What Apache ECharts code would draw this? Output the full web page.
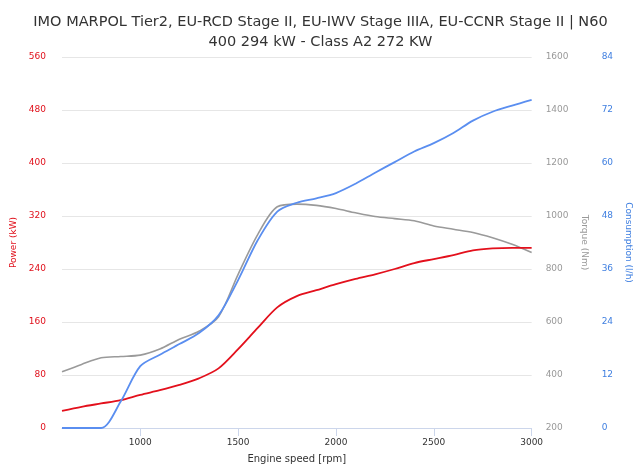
<!DOCTYPE html>
<html><head><meta charset="utf-8">
<script src="https://cdn.jsdelivr.net/npm/echarts@6/dist/echarts.min.js"></script>
<style>html,body{margin:0;padding:0;background:#fff}#c{width:641px;height:473px}</style>
</head><body><div id="c"></div>
<script>
const titleText = 'IMO MARPOL Tier2, EU-RCD Stage II, EU-IWV Stage IIIA, EU-CCNR Stage II | N60\n400 294 kW - Class A2 272 KW';
const rpm = [600,700,800,900,1000,1100,1200,1300,1400,1500,1600,1700,1800,1900,2000,2100,2200,2300,2400,2500,2600,2700,2800,2900,3000];
const power = [26,32,37,42,50,57,65,75,90,119,151,182,199,208,217,225,232,240,249,255,261,268,271,272,272];
const torque = [412,440,465,470,475,498,535,565,620,780,930,1035,1045,1040,1028,1012,998,990,982,962,950,938,918,893,862];
const consumption = [0,0,0,6,14,16.6,19,21.5,25.5,33.5,42.5,49,51,52,53.2,55.3,57.8,60.2,62.6,64.5,66.8,69.6,71.6,73,74.3];
const xTicks = [1000,1500,2000,2500,3000];
const powerTicks = [0,80,160,240,320,400,480,560];
const torqueTicks = [200,400,600,800,1000,1200,1400,1600];
const consTicks = [0,12,24,36,48,60,72,84];

const pair = arr => rpm.map((r,i)=>[r,arr[i]]);
const plain = v => String(v);
const FONT = 'DejaVu Sans';
const chart = echarts.init(document.getElementById('c'));
chart.setOption({
  animation:false,
  textStyle:{fontFamily:FONT},
  title:{text:titleText,left:'center',top:7,textStyle:{fontSize:14.5,fontWeight:'normal',color:'#333',lineHeight:20,fontFamily:FONT}},
  grid:{left:62,right:108,top:57,bottom:45},
  xAxis:{type:'value',min:600,max:3000,name:'Engine speed [rpm]',nameLocation:'middle',nameGap:26,
    nameTextStyle:{fontSize:10,color:'#333'},
    axisLine:{lineStyle:{color:'#ccd6eb'}},
    axisTick:{show:true,length:8,lineStyle:{color:'#ccd6eb'},customValues:xTicks},
    axisLabel:{customValues:xTicks,fontSize:9,color:'#333',margin:10,formatter:plain},
    splitLine:{show:false}},
  yAxis:[
    {type:'value',min:0,max:560,interval:80,position:'left',name:'Power (kW)',nameLocation:'middle',nameGap:38,
      nameTextStyle:{color:'#e0101b',fontSize:9},
      axisLabel:{color:'#e0101b',fontSize:9,margin:16,formatter:plain},axisLine:{show:false},axisTick:{show:false},
      splitLine:{lineStyle:{color:'#e6e6e6'}}},
    {type:'value',min:200,max:1600,interval:200,position:'right',name:'Torque (Nm)',nameLocation:'middle',nameGap:38,nameRotate:-90,
      nameTextStyle:{color:'#999',fontSize:9},
      axisLabel:{color:'#999',fontSize:9,margin:14,formatter:plain},axisLine:{show:false},axisTick:{show:false},splitLine:{show:false}},
    {type:'value',min:0,max:84,interval:12,position:'right',offset:56,name:'Consumption (l/h)',nameLocation:'middle',nameGap:24,nameRotate:-90,
      nameTextStyle:{color:'#3f7fe0',fontSize:9},
      axisLabel:{color:'#3f7fe0',fontSize:9,margin:14,formatter:plain},axisLine:{show:false},axisTick:{show:false},splitLine:{show:false}}
  ],
  series:[
    {type:'line',yAxisIndex:1,data:pair(torque),smooth:0.3,symbol:'none',lineStyle:{color:'#9a9a9a',width:1.6}},
    {type:'line',yAxisIndex:0,data:pair(power),smooth:0.3,symbol:'none',lineStyle:{color:'#e3101c',width:1.8}},
    {type:'line',yAxisIndex:2,data:pair(consumption),smooth:0.3,symbol:'none',lineStyle:{color:'#5a8ef0',width:1.8}}
  ]
});
</script></body></html>
